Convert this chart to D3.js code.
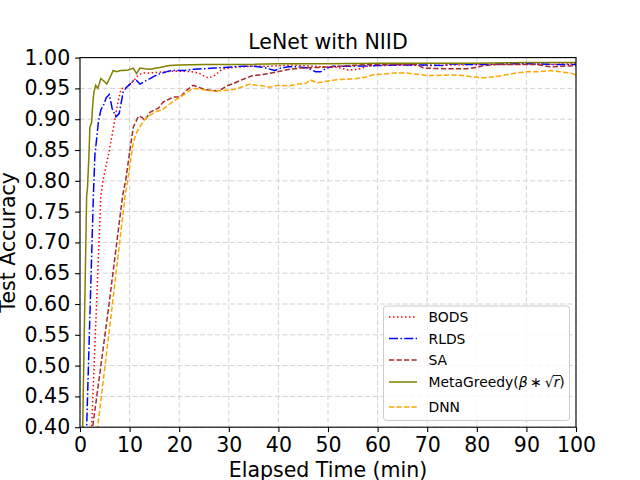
<!DOCTYPE html>
<html>
<head>
<meta charset="utf-8">
<script src="https://cdn.jsdelivr.net/npm/d3@7.9.0/dist/d3.min.js"></script>
<style>
  body { margin: 0; background: #fff; }
  svg { display: block; font-family: "DejaVu Sans", sans-serif; }
</style>
</head>
<body>
<svg id="chart" width="640" height="480"></svg>
<script>
// values (elapsed minutes, test accuracy)
const bodsTime = [2.0, 2.35, 4.2, 4.7, 5.7, 6.7, 7.4, 8.1, 8.5, 9.1, 10.1, 11.1, 11.8, 12.8, 14.1, 15.5, 17, 19, 21, 22.5, 23.9, 25, 25.9, 27, 27.9, 28.6, 30, 32, 35, 38, 40, 43, 45, 47, 49, 52, 54, 56, 58, 60, 65, 70, 75, 80, 85, 90, 95, 100];
const bodsAcc  = [0.33, 0.40, 0.776, 0.803, 0.841, 0.884, 0.917, 0.944, 0.950, 0.950, 0.957, 0.965, 0.972, 0.975, 0.975, 0.976, 0.977, 0.978, 0.978, 0.977, 0.975, 0.970, 0.967, 0.970, 0.976, 0.981, 0.983, 0.985, 0.986, 0.986, 0.987, 0.988, 0.987, 0.986, 0.985, 0.984, 0.980, 0.981, 0.986, 0.988, 0.988, 0.987, 0.988, 0.989, 0.989, 0.990, 0.989, 0.990];

const rldsTime = [1.0, 1.34, 2.7, 3.0, 3.7, 4.2, 4.7, 5.3, 5.9, 6.5, 7.25, 7.9, 8.7, 9.4, 10.1, 10.8, 11.4, 12.1, 12.8, 13.4, 14.1, 15, 16.1, 17.1, 17.8, 19, 21, 23, 25, 27, 29, 31, 33, 35, 37, 39.3, 40.5, 42, 44, 46, 47.5, 48.5, 49.5, 51, 55, 60, 65, 70, 73, 75, 78, 82, 86, 90, 95, 100];
const rldsAcc  = [0.31, 0.40, 0.776, 0.841, 0.895, 0.915, 0.922, 0.935, 0.940, 0.917, 0.904, 0.909, 0.944, 0.952, 0.957, 0.963, 0.963, 0.957, 0.960, 0.963, 0.966, 0.970, 0.974, 0.976, 0.978, 0.979, 0.979, 0.981, 0.982, 0.983, 0.984, 0.985, 0.986, 0.986, 0.984, 0.979, 0.983, 0.985, 0.985, 0.983, 0.977, 0.977, 0.982, 0.986, 0.986, 0.987, 0.988, 0.988, 0.987, 0.990, 0.989, 0.989, 0.990, 0.990, 0.989, 0.989];

const saTime = [2.0, 2.55, 5.7, 8.6, 9.2, 10.1, 10.75, 11.8, 12.5, 13.1, 14.1, 15, 15.8, 16.8, 17.8, 18.8, 20.2, 21.5, 22.8, 23.5, 24.9, 26.2, 27.6, 28.6, 29.6, 31, 32.3, 33.6, 34.9, 36.5, 38, 40.3, 42.3, 44.4, 48, 52.4, 56, 60, 64, 68, 69.2, 73.3, 78, 80, 81.3, 84, 88, 92, 94.8, 97, 100];
const saAcc  = [0.366, 0.40, 0.59, 0.776, 0.80, 0.852, 0.887, 0.905, 0.903, 0.898, 0.911, 0.915, 0.918, 0.928, 0.932, 0.936, 0.936, 0.947, 0.955, 0.953, 0.949, 0.947, 0.946, 0.949, 0.954, 0.958, 0.963, 0.967, 0.971, 0.972, 0.974, 0.978, 0.981, 0.983, 0.984, 0.986, 0.988, 0.989, 0.989, 0.989, 0.983, 0.982, 0.982, 0.984, 0.987, 0.989, 0.989, 0.989, 0.985, 0.986, 0.987];

const metaTime = [0, 0.54, 1.34, 1.5, 1.8, 2.0, 2.35, 2.55, 2.8, 3.16, 3.6, 4.2, 4.8, 5.4, 5.9, 6.7, 7.4, 8.1, 8.7, 9.7, 10.75, 11.4, 12.1, 13, 14.1, 16.1, 18, 20, 25, 30, 35, 40, 50, 60, 70, 80, 90, 100];
const metaAcc  = [0.15, 0.40, 0.776, 0.787, 0.841, 0.887, 0.895, 0.922, 0.944, 0.955, 0.950, 0.966, 0.962, 0.957, 0.965, 0.979, 0.977, 0.979, 0.979, 0.980, 0.983, 0.974, 0.983, 0.982, 0.981, 0.984, 0.987, 0.988, 0.989, 0.989, 0.989, 0.990, 0.990, 0.991, 0.991, 0.991, 0.992, 0.992];

const dnnTime = [3.0, 3.56, 6.4, 9.1, 9.6, 10.75, 11.5, 12.4, 13.2, 14.1, 15.2, 16.5, 17.8, 19, 20.2, 21.5, 22.8, 24, 25.5, 27, 28.2, 29.5, 30.9, 32.2, 33.6, 34.3, 35.6, 37, 38.3, 40, 42, 44, 45.5, 46.4, 47.8, 50, 51.7, 54, 55.8, 57.5, 59.1, 61, 63.2, 65.9, 67.8, 69.9, 72, 74.6, 77, 80, 81.3, 83.5, 86, 88, 90.1, 92.5, 94.8, 96.8, 98.8, 100];
const dnnAcc  = [0.37, 0.40, 0.59, 0.776, 0.80, 0.863, 0.880, 0.892, 0.901, 0.906, 0.912, 0.915, 0.923, 0.930, 0.936, 0.943, 0.950, 0.949, 0.947, 0.946, 0.946, 0.947, 0.948, 0.951, 0.955, 0.957, 0.955, 0.954, 0.952, 0.955, 0.954, 0.957, 0.958, 0.964, 0.959, 0.962, 0.964, 0.965, 0.966, 0.968, 0.972, 0.973, 0.975, 0.975, 0.973, 0.971, 0.971, 0.972, 0.971, 0.968, 0.967, 0.969, 0.972, 0.975, 0.977, 0.977, 0.979, 0.977, 0.975, 0.972];

const xTicks = [0, 10, 20, 30, 40, 50, 60, 70, 80, 90, 100];
const yTicks = [0.40, 0.45, 0.50, 0.55, 0.60, 0.65, 0.70, 0.75, 0.80, 0.85, 0.90, 0.95, 1.00];

const series = [
  { name: 'BODS', time: bodsTime, acc: bodsAcc, color: '#ff0000', dash: '1.5,2.5' },
  { name: 'RLDS', time: rldsTime, acc: rldsAcc, color: '#0000ff', dash: '9,2.4,1.5,2.4' },
  { name: 'SA', time: saTime, acc: saAcc, color: '#a52a2a', dash: '5.2,2.3' },
  { name: 'MetaGreedy', time: metaTime, acc: metaAcc, color: '#808000', dash: null },
  { name: 'DNN', time: dnnTime, acc: dnnAcc, color: '#ffa500', dash: '5.2,2.3' }
];

const svg = d3.select('#chart');
const mLeft = 80, mRight = 576, mTop = 57.6, mBottom = 427.2;

const x = d3.scaleLinear().domain([0, 100]).range([mLeft, mRight]);
const y = d3.scaleLinear().domain([0.4, 1.0]).range([mBottom, mTop]);

// grid
const grid = svg.append('g');
grid.selectAll('line.gx').data(xTicks).join('line')
  .attr('x1', d => x(d)).attr('x2', d => x(d))
  .attr('y1', mTop).attr('y2', mBottom)
  .attr('stroke', '#d3d3d3').attr('stroke-width', 1)
  .attr('stroke-dasharray', '5,2.5');
grid.selectAll('line.gy').data(yTicks).join('line')
  .attr('y1', d => y(d)).attr('y2', d => y(d))
  .attr('x1', mLeft).attr('x2', mRight)
  .attr('stroke', '#d3d3d3').attr('stroke-width', 1)
  .attr('stroke-dasharray', '5,2.5');

svg.append('clipPath').attr('id', 'plot-clip')
  .append('rect')
  .attr('x', mLeft).attr('y', mTop)
  .attr('width', mRight - mLeft).attr('height', mBottom - mTop);

const line = d3.line()
  .x(d => x(d[0]))
  .y(d => y(d[1]));

const lines = svg.append('g').attr('clip-path', 'url(#plot-clip)');
series.forEach(s => {
  const pts = s.time.map((t, i) => [t, s.acc[i]]);
  lines.append('path')
    .attr('d', line(pts))
    .attr('fill', 'none')
    .attr('stroke', s.color)
    .attr('stroke-width', 1.5)
    .attr('stroke-dasharray', s.dash);
});

// axes
const xAxis = d3.axisBottom(x).tickValues(xTicks).tickSize(4.9).tickPadding(4.9)
  .tickFormat(d3.format('d'));
const yAxis = d3.axisLeft(y).tickValues(yTicks).tickSize(4.9).tickPadding(4.9)
  .tickFormat(d3.format('.2f'));

const gx = svg.append('g').attr('transform', `translate(0,${mBottom})`).call(xAxis);
const gy = svg.append('g').attr('transform', `translate(${mLeft},0)`).call(yAxis);
[gx, gy].forEach(g => {
  g.select('.domain').remove();
  g.selectAll('text').attr('font-size', 20.5).attr('fill', '#000')
    .attr('font-family', '"DejaVu Sans", sans-serif');
  g.selectAll('line').attr('stroke', '#000').attr('stroke-width', 1.1);
});

// frame
svg.append('rect')
  .attr('x', mLeft).attr('y', mTop)
  .attr('width', mRight - mLeft).attr('height', mBottom - mTop)
  .attr('fill', 'none').attr('stroke', '#000').attr('stroke-width', 1.1);

// labels
svg.append('text')
  .attr('x', (mLeft + mRight) / 2).attr('y', 48.5)
  .attr('text-anchor', 'middle').attr('font-size', 20.5)
  .text('LeNet with NIID');

svg.append('text')
  .attr('x', (mLeft + mRight) / 2).attr('y', 477)
  .attr('text-anchor', 'middle').attr('font-size', 20.5)
  .text('Elapsed Time (min)');

svg.append('text')
  .attr('transform', `translate(15,${(mTop + mBottom) / 2}) rotate(-90)`)
  .attr('text-anchor', 'middle').attr('font-size', 20.5)
  .text('Test Accuracy');

// legend
const legend = svg.append('g');
legend.append('rect')
  .attr('x', 383.5).attr('y', 306).attr('width', 186).attr('height', 114.5)
  .attr('rx', 3).attr('fill', '#fff').attr('fill-opacity', 0.8)
  .attr('stroke', '#cccccc').attr('stroke-width', 1);

const rowY = [317, 338.5, 360, 382, 407];
series.forEach((s, i) => {
  legend.append('line')
    .attr('x1', 389).attr('x2', 417)
    .attr('y1', rowY[i]).attr('y2', rowY[i])
    .attr('stroke', s.color).attr('stroke-width', 1.5)
    .attr('stroke-dasharray', s.dash);
  const t = legend.append('text')
    .attr('x', 428.5).attr('y', rowY[i]).attr('dy', '0.36em')
    .attr('font-size', 13.9);
  if (s.name === 'MetaGreedy') {
    t.append('tspan').text('MetaGreedy(');
    t.append('tspan').attr('font-style', 'italic').text('β');
    t.append('tspan').text('\u2009∗\u2009');
    t.append('tspan').attr('id', 'sqrt-sign').text('√');
    t.append('tspan').attr('id', 'sqrt-r').attr('font-style', 'italic').text('r');
    t.append('tspan').text(')');
  } else {
    t.text(s.name);
  }
});

// radical bar over r
const rNode = document.getElementById('sqrt-r');
const sNode = document.getElementById('sqrt-sign');
if (rNode && sNode) {
  const sb = sNode.getBBox();
  const rb = rNode.getBBox();
  legend.append('line')
    .attr('x1', sb.x + sb.width - 1).attr('x2', rb.x + rb.width + 0.5)
    .attr('y1', sb.y + 1.5).attr('y2', sb.y + 1.5)
    .attr('stroke', '#000').attr('stroke-width', 0.9);
}
</script>
</body>
</html>
